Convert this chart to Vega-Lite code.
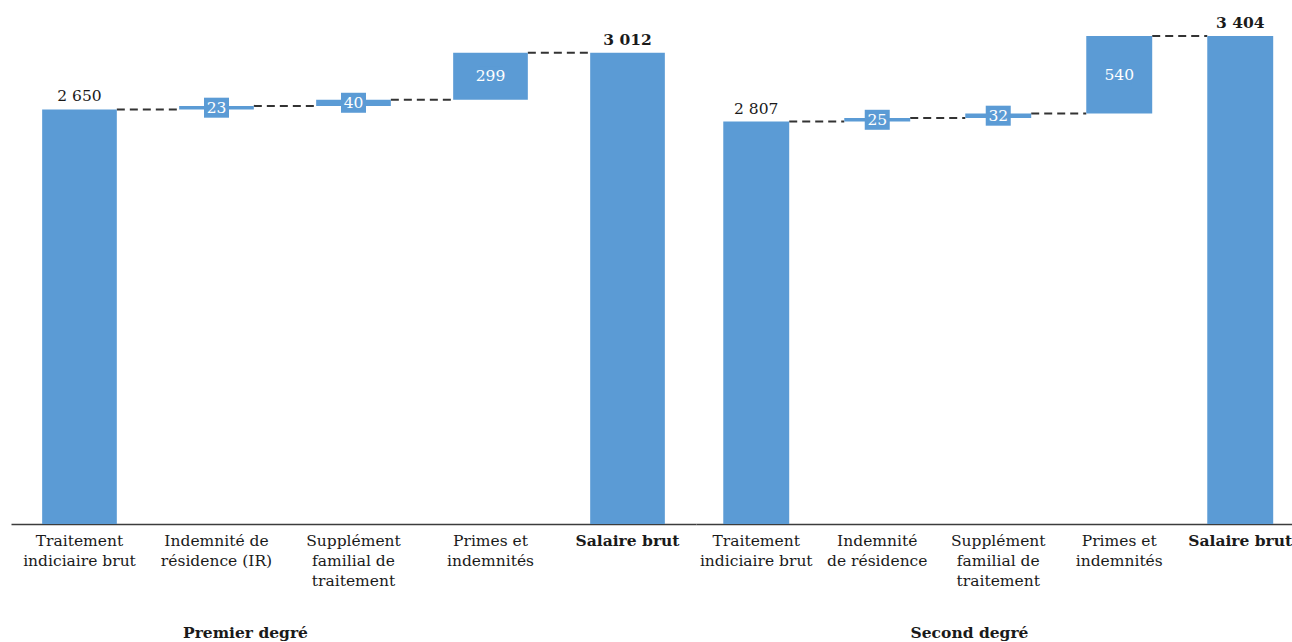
{
  "$schema": "https://vega.github.io/schema/vega-lite/v6.json",
  "padding": {"left": 11, "top": 0, "right": 0, "bottom": 0},
  "autosize": {"type": "pad"},
  "spacing": 0,
  "bounds": "flush",
  "background": "white",
  "config": {
    "view": {"stroke": null},
    "locale": {"number": {"decimal": ",", "thousands": "\u00a0", "grouping": [3], "currency": ["", "\u00a0€"]}},
    "axisX": {
      "labelAngle": 0,
      "labelFont": "DejaVu Serif",
      "labelFontSize": 15.5,
      "labelColor": "#1a1a1a",
      "labelLineHeight": 20,
      "labelPadding": 9,
      "labelLimit": 0,
      "labelExpr": "split(datum.label, '|')",
      "ticks": false,
      "grid": false,
      "domainColor": "#3c3c3c",
      "domainWidth": 1.5,
      "titleFont": "DejaVu Serif",
      "titleFontSize": 15.5,
      "titleFontWeight": "bold",
      "titleColor": "#1a1a1a",
      "titleAlign": "center",
      "titleBaseline": "middle",
      "titleY": 108
    }
  },
  "datasets": {
    "premier": [
      {"etape": "Traitement|indiciaire brut", "debut": 0, "fin": 2650, "valeur": 2650, "type": "total", "suivant": "Indemnité de|résidence (IR)"},
      {"etape": "Indemnité de|résidence (IR)", "debut": 2650, "fin": 2673, "valeur": 23, "type": "delta", "suivant": "Supplément|familial de|traitement"},
      {"etape": "Supplément|familial de|traitement", "debut": 2673, "fin": 2713, "valeur": 40, "type": "delta", "suivant": "Primes et|indemnités"},
      {"etape": "Primes et|indemnités", "debut": 2713, "fin": 3012, "valeur": 299, "type": "delta", "suivant": "Salaire brut"},
      {"etape": "Salaire brut", "debut": 0, "fin": 3012, "valeur": 3012, "type": "total", "suivant": null}
    ],
    "second": [
      {"etape": "Traitement|indiciaire brut", "debut": 0, "fin": 2807, "valeur": 2807, "type": "total", "suivant": "Indemnité|de résidence"},
      {"etape": "Indemnité|de résidence", "debut": 2807, "fin": 2832, "valeur": 25, "type": "delta", "suivant": "Supplément|familial de|traitement"},
      {"etape": "Supplément|familial de|traitement", "debut": 2832, "fin": 2864, "valeur": 32, "type": "delta", "suivant": "Primes et|indemnités"},
      {"etape": "Primes et|indemnités", "debut": 2864, "fin": 3404, "valeur": 540, "type": "delta", "suivant": "Salaire brut"},
      {"etape": "Salaire brut", "debut": 0, "fin": 3404, "valeur": 3404, "type": "total", "suivant": null}
    ]
  },
  "hconcat": [
    {
      "width": 685,
      "height": 524,
      "data": {"name": "premier"},
      "encoding": {
        "x": {"field": "etape", "type": "nominal",
              "scale": {"type": "band", "domain": ["Traitement|indiciaire brut", "Indemnité de|résidence (IR)", "Supplément|familial de|traitement", "Primes et|indemnités", "Salaire brut"], "paddingInner": 0.455, "paddingOuter": 0.2274, "align": 0.5},
              "axis": {"title": "Premier degré", "titleX": 234, "labelFontWeight": {"condition": {"test": "datum.value == 'Salaire brut'", "value": "bold"}, "value": "normal"}}}
      },
      "layer": [
        {
          "transform": [{"filter": "datum.suivant != null"}],
          "mark": {"type": "rule", "strokeDash": [8, 5], "strokeWidth": 2, "color": "#333333"},
          "encoding": {
            "x": {"field": "etape", "type": "nominal", "bandPosition": 1,
                  "scale": {"type": "band", "domain": ["Traitement|indiciaire brut", "Indemnité de|résidence (IR)", "Supplément|familial de|traitement", "Primes et|indemnités", "Salaire brut"], "paddingInner": 0.455, "paddingOuter": 0.2274, "align": 0.5},
                  "axis": {"title": "Premier degré", "titleX": 234, "labelFontWeight": {"condition": {"test": "datum.value == 'Salaire brut'", "value": "bold"}, "value": "normal"}}},
            "x2": {"field": "suivant", "bandPosition": 0},
            "y": {"field": "fin", "type": "quantitative", "scale": {"domain": [0, 3350], "nice": false, "zero": true}, "axis": null}
          }
        },
        {
          "mark": {"type": "bar", "color": "#5B9BD5"},
          "encoding": {
            "y": {"field": "debut", "type": "quantitative", "scale": {"domain": [0, 3350], "nice": false, "zero": true}, "axis": null},
            "y2": {"field": "fin"}
          }
        },
        {
          "transform": [
            {"filter": "datum.type == 'delta'"},
            {"fold": ["debut", "fin"], "as": ["borne", "niveau"]}
          ],
          "encoding": {
            "y": {"aggregate": "mean", "field": "niveau", "type": "quantitative", "scale": {"domain": [0, 3350], "nice": false, "zero": true}, "axis": null}
          },
          "layer": [
            {"mark": {"type": "point", "shape": "M-1.25,-1H1.25V1H-1.25Z", "size": 400, "filled": true, "color": "#5B9BD5", "opacity": 1, "strokeWidth": 0}},
            {"mark": {"type": "text", "color": "white", "font": "DejaVu Serif", "fontSize": 15.5, "baseline": "middle", "align": "center"},
             "encoding": {"text": {"aggregate": "max", "field": "valeur", "type": "quantitative", "format": ","}}}
          ]
        },
        {
          "transform": [{"filter": "datum.type == 'total' && datum.etape != 'Salaire brut'"}],
          "mark": {"type": "text", "font": "DejaVu Serif", "fontSize": 15.5, "baseline": "alphabetic", "align": "center", "dy": -8, "color": "#1a1a1a"},
          "encoding": {
            "y": {"field": "fin", "type": "quantitative", "scale": {"domain": [0, 3350], "nice": false, "zero": true}, "axis": null},
            "text": {"field": "valeur", "type": "quantitative", "format": ","}
          }
        },
        {
          "transform": [{"filter": "datum.etape == 'Salaire brut'"}],
          "mark": {"type": "text", "font": "DejaVu Serif", "fontSize": 15.5, "fontWeight": "bold", "baseline": "alphabetic", "align": "center", "dy": -8, "color": "#1a1a1a"},
          "encoding": {
            "y": {"field": "fin", "type": "quantitative", "scale": {"domain": [0, 3350], "nice": false, "zero": true}, "axis": null},
            "text": {"field": "valeur", "type": "quantitative", "format": ","}
          }
        }
      ]
    },
    {
      "width": 596,
      "height": 524,
      "data": {"name": "second"},
      "encoding": {
        "x": {"field": "etape", "type": "nominal",
              "scale": {"type": "band", "domain": ["Traitement|indiciaire brut", "Indemnité|de résidence", "Supplément|familial de|traitement", "Primes et|indemnités", "Salaire brut"], "paddingInner": 0.455, "paddingOuter": 0.19035, "align": 0.592},
              "axis": {"title": "Second degré", "titleX": 273, "labelFontWeight": {"condition": {"test": "datum.value == 'Salaire brut'", "value": "bold"}, "value": "normal"}}}
      },
      "layer": [
        {
          "transform": [{"filter": "datum.suivant != null"}],
          "mark": {"type": "rule", "strokeDash": [8, 5], "strokeWidth": 2, "color": "#333333"},
          "encoding": {
            "x": {"field": "etape", "type": "nominal", "bandPosition": 1,
                  "scale": {"type": "band", "domain": ["Traitement|indiciaire brut", "Indemnité|de résidence", "Supplément|familial de|traitement", "Primes et|indemnités", "Salaire brut"], "paddingInner": 0.455, "paddingOuter": 0.19035, "align": 0.592},
                  "axis": {"title": "Second degré", "titleX": 273, "labelFontWeight": {"condition": {"test": "datum.value == 'Salaire brut'", "value": "bold"}, "value": "normal"}}},
            "x2": {"field": "suivant", "bandPosition": 0},
            "y": {"field": "fin", "type": "quantitative", "scale": {"domain": [0, 3655], "nice": false, "zero": true}, "axis": null}
          }
        },
        {
          "mark": {"type": "bar", "color": "#5B9BD5"},
          "encoding": {
            "y": {"field": "debut", "type": "quantitative", "scale": {"domain": [0, 3655], "nice": false, "zero": true}, "axis": null},
            "y2": {"field": "fin"}
          }
        },
        {
          "transform": [
            {"filter": "datum.type == 'delta'"},
            {"fold": ["debut", "fin"], "as": ["borne", "niveau"]}
          ],
          "encoding": {
            "y": {"aggregate": "mean", "field": "niveau", "type": "quantitative", "scale": {"domain": [0, 3655], "nice": false, "zero": true}, "axis": null}
          },
          "layer": [
            {"mark": {"type": "point", "shape": "M-1.25,-1H1.25V1H-1.25Z", "size": 400, "filled": true, "color": "#5B9BD5", "opacity": 1, "strokeWidth": 0}},
            {"mark": {"type": "text", "color": "white", "font": "DejaVu Serif", "fontSize": 15.5, "baseline": "middle", "align": "center"},
             "encoding": {"text": {"aggregate": "max", "field": "valeur", "type": "quantitative", "format": ","}}}
          ]
        },
        {
          "transform": [{"filter": "datum.type == 'total' && datum.etape != 'Salaire brut'"}],
          "mark": {"type": "text", "font": "DejaVu Serif", "fontSize": 15.5, "baseline": "alphabetic", "align": "center", "dy": -8, "color": "#1a1a1a"},
          "encoding": {
            "y": {"field": "fin", "type": "quantitative", "scale": {"domain": [0, 3655], "nice": false, "zero": true}, "axis": null},
            "text": {"field": "valeur", "type": "quantitative", "format": ","}
          }
        },
        {
          "transform": [{"filter": "datum.etape == 'Salaire brut'"}],
          "mark": {"type": "text", "font": "DejaVu Serif", "fontSize": 15.5, "fontWeight": "bold", "baseline": "alphabetic", "align": "center", "dy": -8, "color": "#1a1a1a"},
          "encoding": {
            "y": {"field": "fin", "type": "quantitative", "scale": {"domain": [0, 3655], "nice": false, "zero": true}, "axis": null},
            "text": {"field": "valeur", "type": "quantitative", "format": ","}
          }
        }
      ]
    }
  ]
}
